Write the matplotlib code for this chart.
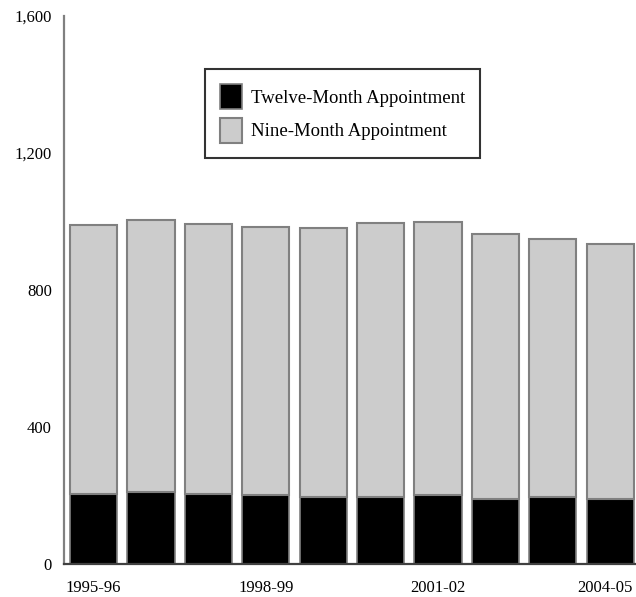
import matplotlib
matplotlib.use("Agg")
import matplotlib.pyplot as plt
import matplotlib.transforms as mtransforms
import numpy as np

plt.rcParams['font.family'] = ['Liberation Serif', 'DejaVu Serif']

years = ["1995-96", "1996-97", "1997-98", "1998-99", "1999-00",
         "2000-01", "2001-02", "2002-03", "2003-04", "2004-05"]
twelve_month = [206, 210, 204, 201, 197, 197, 202, 191, 197, 190]
totals = [990, 1005, 992, 984, 981, 995, 997, 962, 947, 935]
nine_month = [t - w for t, w in zip(totals, twelve_month)]
tick_labels = ["1995-96", "", "", "1998-99", "", "", "2001-02", "", "", "2004-05"]
yticks = [0, 400, 800, 1200, 1600]

W, H = 636, 597
fig = plt.figure(figsize=(W / 100, H / 100), dpi=100)
left, bottom, top = 64.3, 564.3, 15.5
right = 636
ax = fig.add_axes([left / W, 1 - bottom / H, (right - left) / W, (bottom - top) / H])

x = np.arange(len(years))
ax.bar(x, twelve_month, width=0.82, color='black', edgecolor='#808080',
       linewidth=1.2, label='Twelve-Month Appointment')
ax.bar(x, nine_month, bottom=twelve_month, width=0.82, color='#cccccc',
       edgecolor='#808080', linewidth=1.5, label='Nine-Month Appointment')

ax.set_xlim(-0.51, 9.45)
ax.set_ylim(0, 1600)
ax.set_yticks(yticks)
ax.set_yticklabels([f"{v:,}" for v in yticks])
ax.set_xticks(x)
ax.set_xticklabels(tick_labels)
ax.tick_params(axis='y', length=0, pad=9, labelsize=12)
ax.tick_params(axis='x', length=0, pad=11, labelsize=12)

# nudge last label left so it fits inside the figure
last = ax.get_xticklabels()[-1]
last.set_transform(last.get_transform() + mtransforms.ScaledTranslation(-4 / 72, 0, fig.dpi_scale_trans))

for s in ['top', 'right']:
    ax.spines[s].set_visible(False)
ax.spines['left'].set_color('#808080')
ax.spines['left'].set_linewidth(1.6)
ax.spines['bottom'].set_color('#404040')
ax.spines['bottom'].set_linewidth(1.6)

leg = fig.legend(loc='upper left', bbox_to_anchor=(205 / W, 1 - 69.3 / H),
                 bbox_transform=fig.transFigure, borderaxespad=0,
                 fontsize=13.5, handlelength=1.17, handleheight=1.67,
                 handletextpad=0.48, labelspacing=0.46, borderpad=0.8,
                 fancybox=False, frameon=True)
leg.get_frame().set_edgecolor('black')
leg.get_frame().set_linewidth(1.5)

fig.savefig('out.png', dpi=100)
